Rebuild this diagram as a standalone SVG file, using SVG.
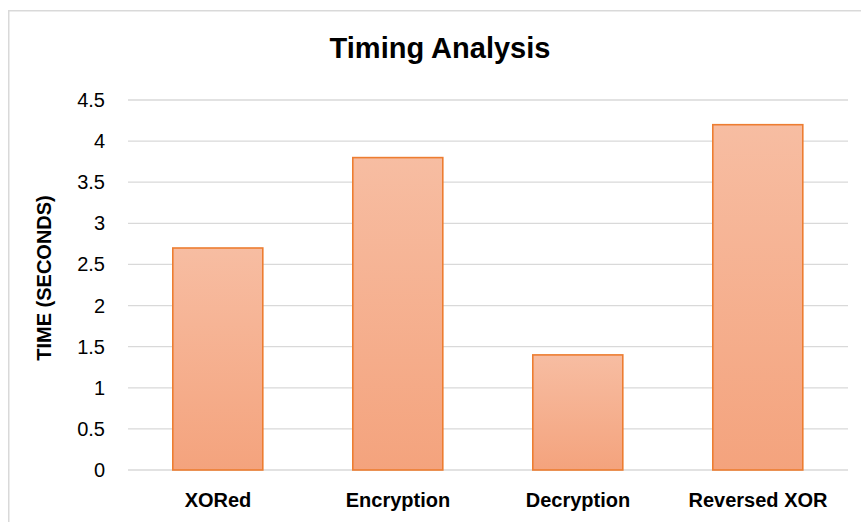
<svg xmlns="http://www.w3.org/2000/svg" width="861" height="522" viewBox="0 0 861 522">
  <defs>
    <linearGradient id="barFill" x1="0" y1="0" x2="0" y2="1">
      <stop offset="0" stop-color="#F7BDA2"/>
      <stop offset="1" stop-color="#F4A37D"/>
    </linearGradient>
    <style>
      .frame { fill: #FFFFFF; stroke: #D9D9D9; stroke-width: 1.5; }
      .grid { stroke: #D9D9D9; stroke-width: 1.3; }
      .bar { fill: url(#barFill); stroke: #ED7D31; stroke-width: 1.6; }
      .tick { font-family: "Liberation Sans", Arial, sans-serif; font-size: 20px; fill: #000000; text-anchor: end; }
      .cat { font-family: "Liberation Sans", Arial, sans-serif; font-size: 20px; font-weight: bold; fill: #000000; text-anchor: middle; }
      .title { font-family: "Liberation Sans", Arial, sans-serif; font-size: 29px; font-weight: bold; fill: #000000; text-anchor: middle; }
      .axis-title { font-family: "Liberation Sans", Arial, sans-serif; font-size: 20px; font-weight: bold; fill: #000000; text-anchor: middle; }
    </style>
  </defs>

  <!-- chart area -->
  <rect x="0" y="0" width="861" height="522" fill="#FFFFFF"/>
  <path class="frame" d="M8.75 530 V10.75 H870" fill="none"/>

  <!-- horizontal gridlines, 0 to 4.5 in steps of 0.5 -->
  <g id="gridlines">
    <line class="grid" x1="128" y1="100" x2="848" y2="100"/>
    <line class="grid" x1="128" y1="141.1" x2="848" y2="141.1"/>
    <line class="grid" x1="128" y1="182.2" x2="848" y2="182.2"/>
    <line class="grid" x1="128" y1="223.3" x2="848" y2="223.3"/>
    <line class="grid" x1="128" y1="264.4" x2="848" y2="264.4"/>
    <line class="grid" x1="128" y1="305.6" x2="848" y2="305.6"/>
    <line class="grid" x1="128" y1="346.7" x2="848" y2="346.7"/>
    <line class="grid" x1="128" y1="387.8" x2="848" y2="387.8"/>
    <line class="grid" x1="128" y1="428.9" x2="848" y2="428.9"/>
    <line class="grid" x1="128" y1="470" x2="848" y2="470"/>
  </g>

  <!-- y-axis tick labels -->
  <g id="y-ticks">
    <text class="tick" x="105" y="107">4.5</text>
    <text class="tick" x="105" y="148.1">4</text>
    <text class="tick" x="105" y="189.2">3.5</text>
    <text class="tick" x="105" y="230.3">3</text>
    <text class="tick" x="105" y="271.4">2.5</text>
    <text class="tick" x="105" y="312.6">2</text>
    <text class="tick" x="105" y="353.7">1.5</text>
    <text class="tick" x="105" y="394.8">1</text>
    <text class="tick" x="105" y="435.9">0.5</text>
    <text class="tick" x="105" y="477">0</text>
  </g>

  <!-- bars -->
  <g id="bar-xored">
    <rect class="bar" x="172.8" y="248" width="90" height="222"/>
  </g>
  <g id="bar-encryption">
    <rect class="bar" x="352.8" y="157.6" width="90" height="312.4"/>
  </g>
  <g id="bar-decryption">
    <rect class="bar" x="532.8" y="354.9" width="90" height="115.1"/>
  </g>
  <g id="bar-reversed-xor">
    <rect class="bar" x="712.8" y="124.7" width="90" height="345.3"/>
  </g>

  <!-- category labels -->
  <g id="x-labels">
    <text class="cat" x="218" y="507">XORed</text>
    <text class="cat" x="398" y="507">Encryption</text>
    <text class="cat" x="578" y="507">Decryption</text>
    <text class="cat" x="758" y="507">Reversed XOR</text>
  </g>

  <!-- titles -->
  <g id="chart-title">
    <text class="title" x="440" y="58">Timing Analysis</text>
  </g>
  <g id="y-axis-title">
    <text class="axis-title" transform="translate(51 278) rotate(-90)">TIME (SECONDS)</text>
  </g>
</svg>
